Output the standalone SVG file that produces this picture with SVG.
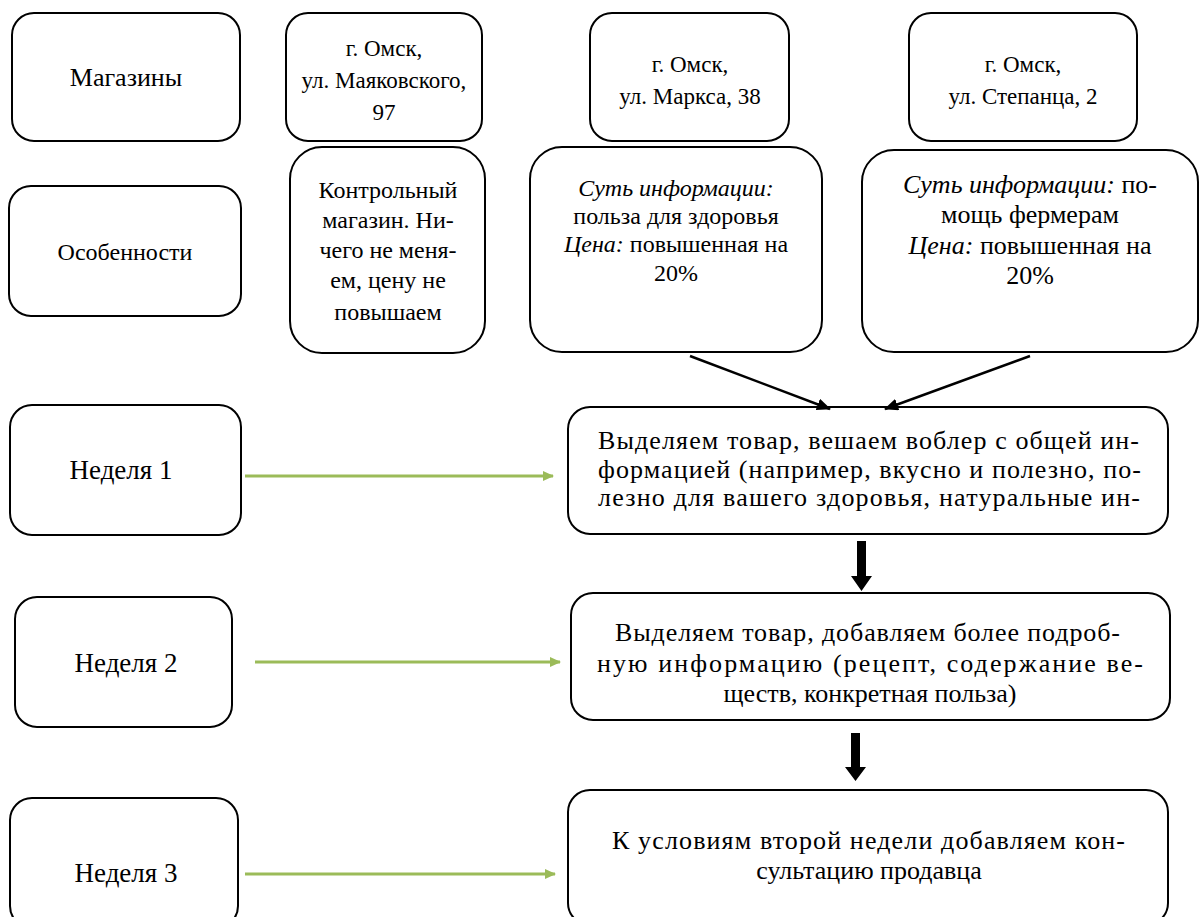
<svg xmlns="http://www.w3.org/2000/svg" width="1201" height="917" viewBox="0 0 1201 917">
<defs>
<style>
.box{fill:#fff;stroke:#000;stroke-width:2}
.t{font-family:"Liberation Serif","Times New Roman",serif;font-size:26px;fill:#000;text-anchor:middle}
.l{text-anchor:start}
.s23{font-size:23px}
.s24{font-size:24px}
.s27{font-size:27px}
.i{font-style:italic}
.g{stroke:#9BBB59;stroke-width:3;fill:none}
.k{stroke:#000;stroke-width:2.5;fill:none}
</style>
<marker id="ga" markerWidth="11" markerHeight="10" refX="10" refY="5" orient="auto" markerUnits="userSpaceOnUse" viewBox="0 0 11 10">
<path d="M0,0 L11,5 L0,10 z" fill="#9BBB59"/>
</marker>
<marker id="ka" markerWidth="14" markerHeight="12" refX="13" refY="6" orient="auto" markerUnits="userSpaceOnUse" viewBox="0 0 14 12">
<path d="M0,0 L14,6 L0,12 z" fill="#000"/>
</marker>
</defs>
<rect width="1201" height="917" fill="#fff"/>

<g id="n-magaziny"><rect class="box" x="12" y="13" width="228" height="128" rx="22"/><text class="t" x="126" y="86">Магазины</text></g>
<g id="n-shop1"><rect class="box" x="286" y="13" width="196" height="128" rx="22"/><text class="t s23" x="384" y="56">г. Омск,</text><text class="t s23" x="384" y="88">ул. Маяковского,</text><text class="t s23" x="384" y="120">97</text></g>
<g id="n-shop2"><rect class="box" x="590" y="13" width="199" height="128" rx="22"/><text class="t s23" x="690" y="72">г. Омск,</text><text class="t s23" x="690" y="104">ул. Маркса, 38</text></g>
<g id="n-shop3"><rect class="box" x="909" y="13" width="228" height="128" rx="22"/><text class="t s23" x="1023" y="72">г. Омск,</text><text class="t s23" x="1023" y="104">ул. Степанца, 2</text></g>

<g id="n-osob"><rect class="box" x="9" y="186" width="232" height="130" rx="22"/><text class="t s24" x="125" y="260">Особенности</text></g>
<g id="n-control"><rect class="box" x="290" y="147" width="195" height="206" rx="32"/>
<text class="t s24" x="388" y="198">Контрольный</text><text class="t s24" x="388" y="228">магазин. Ни-</text><text class="t s24" x="388" y="258">чего не меня-</text><text class="t s24" x="388" y="288">ем, цену не</text><text class="t s24" x="388" y="320">повышаем</text></g>
<g id="n-sut1"><rect class="box" x="530" y="147" width="292" height="205" rx="32"/>
<text class="t s24" x="676" y="196"><tspan class="i">Суть информации:</tspan></text>
<text class="t s24" x="676" y="224">польза для здоровья</text>
<text class="t s24" x="676" y="252"><tspan class="i">Цена:</tspan> повышенная на</text>
<text class="t s24" x="676" y="281">20%</text></g>
<g id="n-sut2"><rect class="box" x="862" y="150" width="336" height="202" rx="32"/>
<text class="t" x="1030" y="193"><tspan class="i">Суть информации:</tspan> по-</text>
<text class="t" x="1030" y="223">мощь фермерам</text>
<text class="t" x="1030" y="254"><tspan class="i">Цена:</tspan> повышенная на</text>
<text class="t" x="1030" y="284">20%</text></g>

<g id="n-week1"><rect class="box" x="10" y="405" width="231" height="130" rx="22"/><text class="t s27" x="121" y="479">Неделя 1</text></g>
<g id="n-step1"><rect class="box" x="568" y="407" width="600" height="127" rx="22"/>
<text class="t l" x="598" y="449" textLength="541" lengthAdjust="spacing">Выделяем товар, вешаем воблер с общей ин-</text>
<text class="t l" x="598" y="478" textLength="543" lengthAdjust="spacing">формацией (например, вкусно и полезно, по-</text>
<text class="t l" x="598" y="506" textLength="542" lengthAdjust="spacing">лезно для вашего здоровья, натуральные ин-</text></g>

<g id="n-week2"><rect class="box" x="15" y="597" width="217" height="130" rx="22"/><text class="t s27" x="126" y="672">Неделя 2</text></g>
<g id="n-step2"><rect class="box" x="571" y="593" width="599" height="127" rx="22"/>
<text class="t l" x="615" y="641" textLength="505" lengthAdjust="spacing">Выделяем товар, добавляем более подроб-</text>
<text class="t l" x="597" y="672" textLength="546" lengthAdjust="spacing">ную информацию (рецепт, содержание ве-</text>
<text class="t" x="870" y="702">ществ, конкретная польза)</text></g>

<g id="n-week3"><rect class="box" x="10" y="798" width="228" height="130" rx="22"/><text class="t s27" x="126" y="882">Неделя 3</text></g>
<g id="n-step3"><rect class="box" x="568" y="790" width="600" height="135" rx="22"/>
<text class="t l" x="612" y="849" textLength="513" lengthAdjust="spacing">К условиям второй недели добавляем кон-</text>
<text class="t" x="869" y="879">сультацию продавца</text></g>

<g id="connectors">
<line class="k" x1="690" y1="356" x2="830" y2="409" marker-end="url(#ka)"/>
<line class="k" x1="1030" y1="356" x2="885" y2="409" marker-end="url(#ka)"/>
<line class="g" x1="245" y1="476" x2="553" y2="476" marker-end="url(#ga)"/>
<line class="g" x1="255" y1="662" x2="560" y2="662" marker-end="url(#ga)"/>
<line class="g" x1="245" y1="874" x2="555" y2="874" marker-end="url(#ga)"/>
<path d="M857,541 h9 v35 h6 l-10.5,15 l-10.5,-15 h6 z" fill="#000"/>
<path d="M851,733 h9 v34 h6 l-10.5,14 l-10.5,-14 h6 z" fill="#000"/>
</g>
</svg>
